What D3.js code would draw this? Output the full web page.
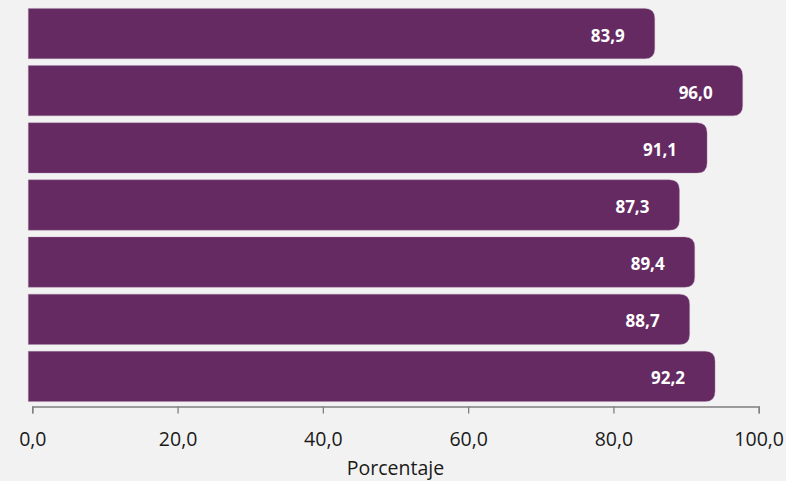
<!DOCTYPE html>
<html><head><meta charset="utf-8">
<script src="https://cdn.jsdelivr.net/npm/d3@7"></script>
<style>
html,body{margin:0;padding:0;background:#f2f2f2;}
svg{display:block;}
</style></head>
<body>
<svg id="chart" width="786" height="481"></svg>
<script>
const categories = ["Categoría 1","Categoría 2","Categoría 3","Categoría 4","Categoría 5","Categoría 6","Categoría 7"];
const values = [83.9, 96.0, 91.1, 87.3, 89.4, 88.7, 92.2];
const tickValues = [0, 20, 40, 60, 80, 100];
const axisTitle = "Porcentaje";

const svg = d3.select("#chart");
const W = 786, H = 481;
svg.append("rect").attr("width", W).attr("height", H).attr("fill", "#f2f2f2");

const x = d3.scaleLinear().domain([0, 100]).range([32.3, 758.7]);
const y = d3.scaleBand().domain(categories).range([5, 405]).paddingInner(0.12).paddingOuter(0.06);

const fmt = v => d3.format(".1f")(v).replace(".", ",");
const barColor = "#652a62";
const leftExt = 4, rightExt = 13, r = 10;

function barPath(d, i) {
  const x0 = x(0) - leftExt;
  const x1 = x(values[i]) + rightExt;
  const y0 = y(categories[i]);
  const h = y.bandwidth();
  return `M${x0},${y0} H${x1 - r} Q${x1},${y0} ${x1},${y0 + r} V${y0 + h - r} Q${x1},${y0 + h} ${x1 - r},${y0 + h} H${x0} Z`;
}

const g = svg.append("g");
g.selectAll("path.bar").data(values).join("path")
  .attr("class", "bar")
  .attr("d", barPath)
  .attr("fill", barColor)
  .attr("stroke", "#a98aa7")
  .attr("stroke-width", 0.6)
  .attr("stroke-opacity", 0.6);

g.selectAll("text.lbl").data(values).join("text")
  .attr("class", "lbl")
  .attr("x", d => x(d) - 17)
  .attr("y", (d, i) => y(categories[i]) + y.bandwidth() / 2 + 2)
  .attr("dy", "0.35em")
  .attr("text-anchor", "end")
  .attr("fill", "#ffffff")
  .attr("font-family", "'Open Sans', 'Noto Sans', sans-serif")
  .attr("font-weight", "bold")
  .attr("font-size", "17px")
  .text(d => fmt(d));

const axis = d3.axisBottom(x).tickValues(tickValues).tickFormat(fmt).tickSize(7).tickSizeOuter(7);
const ax = svg.append("g").attr("transform", "translate(0,406.5)").call(axis);
ax.select(".domain").attr("stroke", "#7f7f7f").attr("stroke-width", 1.3);
ax.selectAll(".tick line").attr("stroke", "#7f7f7f").attr("stroke-width", 1.3);
ax.selectAll(".tick text")
  .attr("y", 26)
  .attr("fill", "#1a1a1a")
  .attr("font-family", "'Open Sans', 'Noto Sans', sans-serif")
  .attr("font-size", "19.5px");

svg.append("text")
  .attr("x", (x(0) + x(100)) / 2)
  .attr("y", 475)
  .attr("text-anchor", "middle")
  .attr("fill", "#1a1a1a")
  .attr("font-family", "'Open Sans', 'Noto Sans', sans-serif")
  .attr("font-size", "19.5px")
  .text(axisTitle);
</script>
</body></html>
